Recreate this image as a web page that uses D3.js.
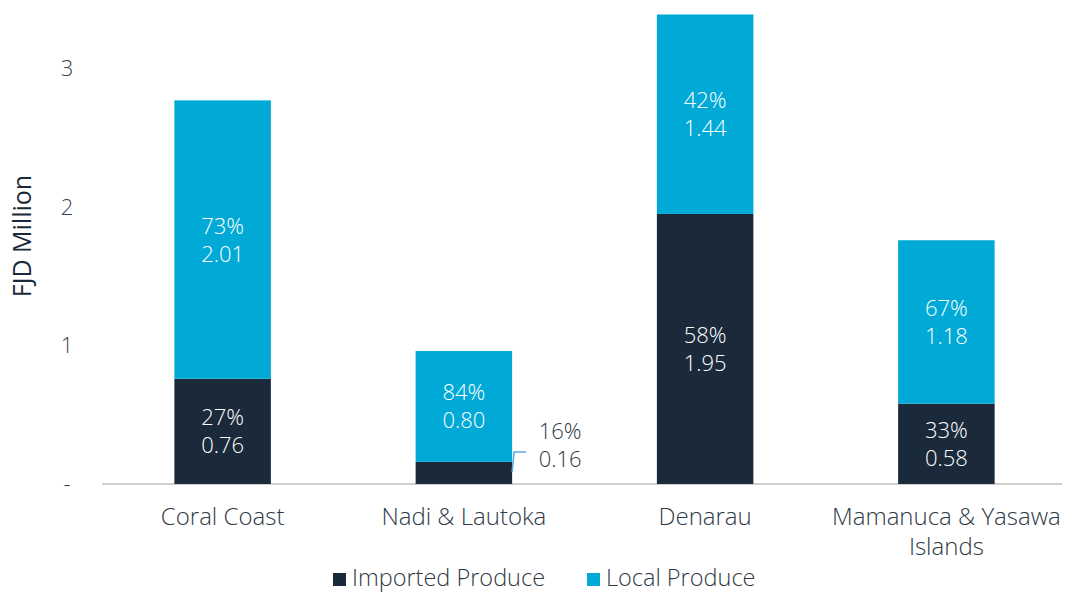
<!DOCTYPE html>
<html>
<head>
<meta charset="utf-8">
<script src="https://cdn.jsdelivr.net/npm/d3@7"></script>
<style>
  body { margin: 0; background: #fff; }
  text { font-family: "Open Sans", "Noto Sans", sans-serif; font-weight: 300; }
</style>
</head>
<body>
<div id="chart"></div>
<script>
var categories = ['Coral Coast', 'Nadi & Lautoka', 'Denarau', 'Mamanuca & Yasawa Islands']
var imported = [0.76, 0.16, 1.95, 0.58]
var local = [2.01, 0.80, 1.44, 1.18]
var importedPct = ['27%', '16%', '58%', '33%']
var localPct = ['73%', '84%', '42%', '67%']
var yTicks = [0, 1, 2, 3]
var seriesNames = ['Imported Produce', 'Local Produce']
var colors = ['#1b2a3b', '#00a9d6']

var width = 1067, height = 592
var margin = { left: 102, right: 0, top: 0, bottom: 108 }

var svg = d3.select('#chart').append('svg')
    .attr('width', width)
    .attr('height', height)

var x = d3.scaleBand()
    .domain(categories)
    .range([margin.left, 1067])
    .paddingInner(0.6)
    .paddingOuter(0.3)

var y = d3.scaleLinear()
    .domain([0, 3])
    .range([484, 68.5])

// baseline
svg.append('line')
    .attr('x1', margin.left).attr('x2', 1062)
    .attr('y1', y(0)).attr('y2', y(0))
    .attr('stroke', '#bfbfbf')
    .attr('stroke-width', 1.5)

// y axis (labels only)
var yAxis = d3.axisLeft(y)
    .tickValues(yTicks)
    .tickSize(0)
    .tickFormat(function(d) { return d === 0 ? '-' : d })

var ya = svg.append('g')
    .attr('transform', 'translate(70,0)')
    .call(yAxis)
ya.select('.domain').remove()
ya.selectAll('text')
    .attr('font-size', 22)
    .attr('fill', '#3a4450')
    .attr('text-anchor', 'middle')
    .attr('dx', 0)
    .style('font-family', '"Open Sans", sans-serif')
    .style('font-weight', 300)

svg.append('text')
    .attr('transform', 'translate(31,236) rotate(-90)')
    .attr('text-anchor', 'middle')
    .attr('font-size', 25)
    .attr('fill', '#1b2a3b')
    .style('font-weight', 400)
    .text('FJD Million')

var rows = categories.map(function(c, i) {
    return { cat: c, imp: imported[i], loc: local[i], ip: importedPct[i], lp: localPct[i] }
})

// bars
var g = svg.append('g')
g.selectAll('rect.imp')
    .data(rows)
    .enter()
    .append('rect')
    .attr('class', 'imp')
    .attr('x', function(d) { return x(d.cat) })
    .attr('width', x.bandwidth())
    .attr('y', function(d) { return y(d.imp) })
    .attr('height', function(d) { return y(0) - y(d.imp) })
    .attr('fill', colors[0])

g.selectAll('rect.loc')
    .data(rows)
    .enter()
    .append('rect')
    .attr('class', 'loc')
    .attr('x', function(d) { return x(d.cat) })
    .attr('width', x.bandwidth())
    .attr('y', function(d) { return y(d.imp + d.loc) })
    .attr('height', function(d) { return y(d.imp) - y(d.imp + d.loc) })
    .attr('fill', colors[1])

function addLabel(cx, cy, pct, val, color, anchor) {
    var t = svg.append('text')
        .attr('text-anchor', anchor || 'middle')
        .attr('font-size', 22)
        .attr('fill', color)
    t.append('tspan').attr('x', cx).attr('y', cy - 6).text(pct)
    t.append('tspan').attr('x', cx).attr('y', cy + 22).text(val.toFixed(2))
}

rows.forEach(function(d) {
    var cx = x(d.cat) + x.bandwidth() / 2
    addLabel(cx, (y(d.imp) + y(d.imp + d.loc)) / 2, d.lp, d.loc, '#ffffff')
    if (d.imp > 0.3) {
        addLabel(cx, (y(0) + y(d.imp)) / 2, d.ip, d.imp, '#ffffff')
    } else {
        // small segment: label outside with a leader line
        var xr = x(d.cat) + x.bandwidth()
        svg.append('path')
            .attr('d', 'M' + xr + ',' + (y(0) - 12) + 'L' + (xr + 2) + ',' + (y(0) - 32) + 'L' + (xr + 14) + ',' + (y(0) - 32))
            .attr('fill', 'none')
            .attr('stroke', '#5aa9e0')
            .attr('stroke-width', 1.5)
        addLabel(xr + 48, y(0) - 39, d.ip, d.imp, '#2f3a46')
    }
})

// category labels
var xa = svg.append('g')
    .attr('transform', 'translate(0,' + y(0) + ')')
    .call(d3.axisBottom(x).tickSize(0))
xa.select('.domain').remove()
xa.selectAll('text').remove()
categories.forEach(function(c) {
    var cx = x(c) + x.bandwidth() / 2
    var lines = c === 'Mamanuca & Yasawa Islands' ? ['Mamanuca & Yasawa', 'Islands'] : [c]
    lines.forEach(function(l, j) {
        svg.append('text')
            .attr('x', cx)
            .attr('y', 525 + j * 30)
            .attr('text-anchor', 'middle')
            .attr('font-size', 24)
            .attr('fill', '#2f3a46')
            .text(l)
    })
})

// legend
var legX = [333, 587]
seriesNames.forEach(function(s, i) {
    svg.append('rect')
        .attr('x', legX[i]).attr('y', 573)
        .attr('width', 13).attr('height', 13)
        .attr('fill', colors[i])
    svg.append('text')
        .attr('x', legX[i] + 19).attr('y', 586)
        .attr('font-size', 23.5)
        .attr('fill', '#2f3a46')
        .text(s)
})
</script>
</body>
</html>
